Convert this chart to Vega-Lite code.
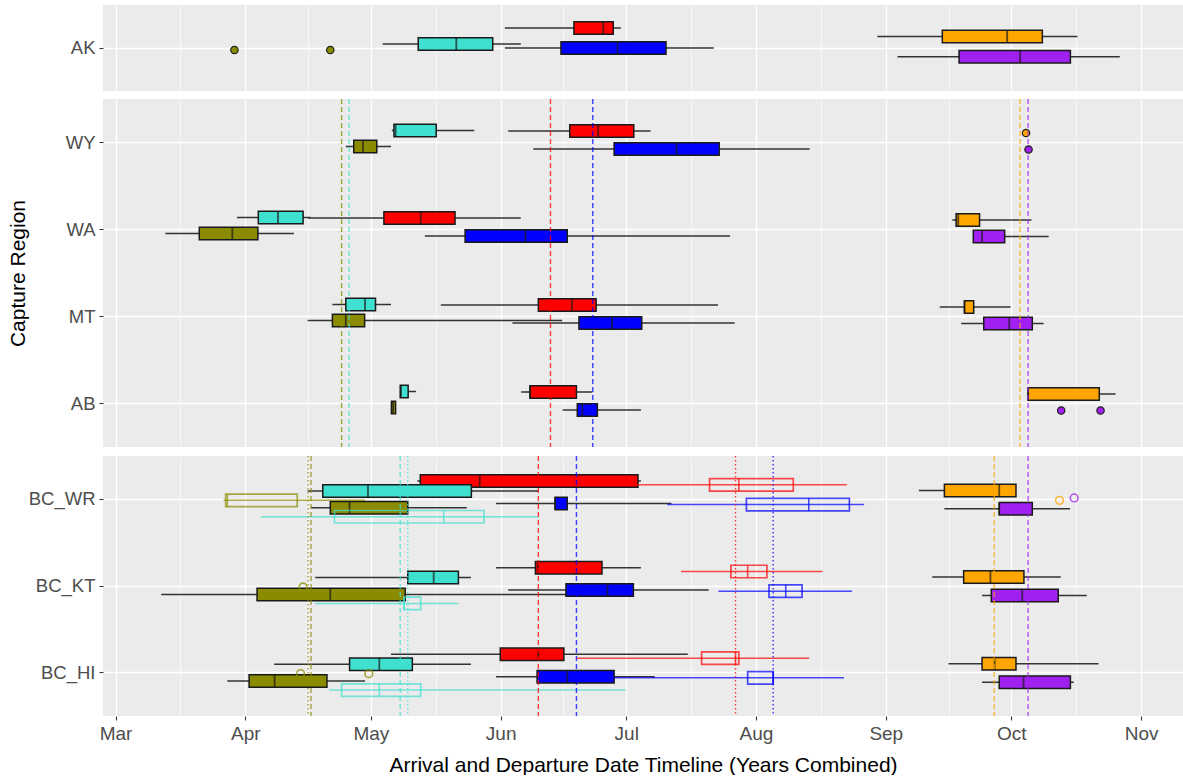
{
  "$schema": "https://vega.github.io/schema/vega-lite/v6.json",
  "background": "white",
  "padding": {"left": 7, "top": 5, "right": 0, "bottom": 0},
  "params": [
    {"name": "dodge", "value": {
      "AK|Spring start|S1": 2, "AK|Spring end|S1": -4, "AK|Summer start|S1": -20, "AK|Summer end|S1": 0, "AK|Fall start|S1": -11.4, "AK|Fall end|S1": 8.7,
      "main|Spring start|S1": 4, "main|Spring end|S1": -12, "main|Summer start|S1": -11.5, "main|Summer end|S1": 6.5, "main|Fall start|S1": -9.5, "main|Fall end|S1": 7,
      "BC|Spring start|S1": 8.4, "BC|Spring end|S1": -8.4, "BC|Summer start|S1": -18.3, "BC|Summer end|S1": 4.1, "BC|Fall start|S1": -8.9, "BC|Fall end|S1": 9.5,
      "BC|Spring start|S2": 1, "BC|Spring end|S2": 17.4, "BC|Summer start|S2": -14.5, "BC|Summer end|S2": 5.2, "BC|Fall start|S2": 1, "BC|Fall end|S2": -1.4
    }}
  ],
  "datasets": {
    "boxes": [
      {"panel":"AK","region":"AK","event":"Spring end","source":"S1","lo":123.8,"q1":132.3,"med":141.4,"q3":150.1,"hi":156.8},
      {"panel":"AK","region":"AK","event":"Summer start","source":"S1","lo":153.0,"q1":169.5,"med":176.5,"q3":178.9,"hi":180.7},
      {"panel":"AK","region":"AK","event":"Summer end","source":"S1","lo":153.0,"q1":166.4,"med":179.9,"q3":191.5,"hi":202.9},
      {"panel":"AK","region":"AK","event":"Fall start","source":"S1","lo":242.0,"q1":257.5,"med":273.0,"q3":281.4,"hi":289.8},
      {"panel":"AK","region":"AK","event":"Fall end","source":"S1","lo":246.8,"q1":261.5,"med":276.1,"q3":288.1,"hi":299.9},

      {"panel":"main","region":"WY","event":"Spring start","source":"S1","lo":115.0,"q1":116.9,"med":119.1,"q3":122.4,"hi":125.8},
      {"panel":"main","region":"WY","event":"Spring end","source":"S1","lo":126.0,"q1":126.5,"med":126.9,"q3":136.6,"hi":145.7},
      {"panel":"main","region":"WY","event":"Summer start","source":"S1","lo":153.8,"q1":168.5,"med":175.3,"q3":183.8,"hi":187.8},
      {"panel":"main","region":"WY","event":"Summer end","source":"S1","lo":159.8,"q1":179.1,"med":194.0,"q3":204.2,"hi":225.8},
      {"panel":"main","region":"WA","event":"Spring start","source":"S1","lo":71.9,"q1":80.0,"med":87.9,"q3":94.0,"hi":102.6},
      {"panel":"main","region":"WA","event":"Spring end","source":"S1","lo":89.0,"q1":94.1,"med":98.8,"q3":104.8,"hi":106.6},
      {"panel":"main","region":"WA","event":"Summer start","source":"S1","lo":106.0,"q1":124.1,"med":132.9,"q3":141.1,"hi":156.8},
      {"panel":"main","region":"WA","event":"Summer end","source":"S1","lo":133.9,"q1":143.5,"med":157.9,"q3":167.9,"hi":206.8},
      {"panel":"main","region":"WA","event":"Fall start","source":"S1","lo":259.9,"q1":260.8,"med":261.3,"q3":266.4,"hi":278.8},
      {"panel":"main","region":"WA","event":"Fall end","source":"S1","lo":264.9,"q1":264.9,"med":267.0,"q3":272.4,"hi":282.9},
      {"panel":"main","region":"MT","event":"Spring start","source":"S1","lo":105.9,"q1":111.8,"med":115.0,"q3":119.5,"hi":166.7},
      {"panel":"main","region":"MT","event":"Spring end","source":"S1","lo":111.8,"q1":115.0,"med":119.6,"q3":122.1,"hi":125.8},
      {"panel":"main","region":"MT","event":"Summer start","source":"S1","lo":137.7,"q1":161.0,"med":169.0,"q3":174.8,"hi":203.9},
      {"panel":"main","region":"MT","event":"Summer end","source":"S1","lo":154.8,"q1":170.7,"med":178.6,"q3":185.7,"hi":207.9},
      {"panel":"main","region":"MT","event":"Fall start","source":"S1","lo":256.9,"q1":262.8,"med":262.8,"q3":265.0,"hi":273.8},
      {"panel":"main","region":"MT","event":"Fall end","source":"S1","lo":262.0,"q1":267.4,"med":273.5,"q3":279.0,"hi":281.7},
      {"panel":"main","region":"AB","event":"Spring start","source":"S1","lo":125.9,"q1":125.9,"med":126.3,"q3":126.9,"hi":126.9},
      {"panel":"main","region":"AB","event":"Spring end","source":"S1","lo":128.0,"q1":128.0,"med":128.2,"q3":129.9,"hi":131.8},
      {"panel":"main","region":"AB","event":"Summer start","source":"S1","lo":156.9,"q1":159.0,"med":159.0,"q3":170.1,"hi":173.9},
      {"panel":"main","region":"AB","event":"Summer end","source":"S1","lo":166.8,"q1":170.3,"med":171.5,"q3":175.1,"hi":185.5},
      {"panel":"main","region":"AB","event":"Fall start","source":"S1","lo":278.0,"q1":278.0,"med":278.0,"q3":295.0,"hi":298.9},

      {"panel":"BC","region":"BC_WR","event":"Summer start","source":"S1","lo":132.1,"q1":132.8,"med":147.0,"q3":184.8,"hi":185.5},
      {"panel":"BC","region":"BC_WR","event":"Spring end","source":"S1","lo":105.9,"q1":109.5,"med":120.3,"q3":145.0,"hi":161.0},
      {"panel":"BC","region":"BC_WR","event":"Spring start","source":"S2","lo":85.8,"q1":86.3,"med":86.7,"q3":103.4,"hi":119.6},
      {"panel":"BC","region":"BC_WR","event":"Spring end","source":"S2","lo":94.7,"q1":112.3,"med":138.4,"q3":148.0,"hi":161.0},
      {"panel":"BC","region":"BC_WR","event":"Spring start","source":"S1","lo":106.7,"q1":111.3,"med":115.9,"q3":129.8,"hi":143.9},
      {"panel":"BC","region":"BC_WR","event":"Summer end","source":"S1","lo":150.9,"q1":165.0,"med":165.0,"q3":167.9,"hi":192.8},
      {"panel":"BC","region":"BC_WR","event":"Summer start","source":"S2","lo":157.7,"q1":201.9,"med":208.9,"q3":221.9,"hi":234.7},
      {"panel":"BC","region":"BC_WR","event":"Summer end","source":"S2","lo":191.8,"q1":210.7,"med":225.6,"q3":235.3,"hi":238.8},
      {"panel":"BC","region":"BC_WR","event":"Fall start","source":"S1","lo":251.9,"q1":258.0,"med":271.1,"q3":275.1,"hi":275.1},
      {"panel":"BC","region":"BC_WR","event":"Fall end","source":"S1","lo":258.0,"q1":271.1,"med":271.1,"q3":279.0,"hi":288.0},
      {"panel":"BC","region":"BC_KT","event":"Spring end","source":"S1","lo":107.7,"q1":129.8,"med":136.0,"q3":141.9,"hi":144.9},
      {"panel":"BC","region":"BC_KT","event":"Spring start","source":"S1","lo":70.9,"q1":93.8,"med":111.3,"q3":129.2,"hi":170.7},
      {"panel":"BC","region":"BC_KT","event":"Spring end","source":"S2","lo":107.7,"q1":128.9,"med":128.9,"q3":132.9,"hi":141.9},
      {"panel":"BC","region":"BC_KT","event":"Summer start","source":"S1","lo":150.9,"q1":160.3,"med":160.9,"q3":176.2,"hi":185.5},
      {"panel":"BC","region":"BC_KT","event":"Summer end","source":"S1","lo":153.8,"q1":167.6,"med":177.5,"q3":183.7,"hi":201.7},
      {"panel":"BC","region":"BC_KT","event":"Summer start","source":"S2","lo":195.1,"q1":207.0,"med":211.0,"q3":215.6,"hi":228.9},
      {"panel":"BC","region":"BC_KT","event":"Summer end","source":"S2","lo":204.0,"q1":216.1,"med":220.1,"q3":224.0,"hi":235.9},
      {"panel":"BC","region":"BC_KT","event":"Fall start","source":"S1","lo":255.1,"q1":262.6,"med":269.0,"q3":277.0,"hi":285.8},
      {"panel":"BC","region":"BC_KT","event":"Fall end","source":"S1","lo":267.0,"q1":269.2,"med":276.6,"q3":285.2,"hi":292.0},
      {"panel":"BC","region":"BC_HI","event":"Summer start","source":"S1","lo":125.8,"q1":151.9,"med":161.0,"q3":167.1,"hi":196.7},
      {"panel":"BC","region":"BC_HI","event":"Spring end","source":"S1","lo":97.9,"q1":115.9,"med":123.0,"q3":130.9,"hi":144.9},
      {"panel":"BC","region":"BC_HI","event":"Spring start","source":"S1","lo":86.7,"q1":91.9,"med":98.0,"q3":110.5,"hi":119.6},
      {"panel":"BC","region":"BC_HI","event":"Summer end","source":"S1","lo":150.9,"q1":160.7,"med":167.9,"q3":179.1,"hi":188.8},
      {"panel":"BC","region":"BC_HI","event":"Spring end","source":"S2","lo":111.0,"q1":114.0,"med":123.0,"q3":132.9,"hi":181.8},
      {"panel":"BC","region":"BC_HI","event":"Summer start","source":"S2","lo":170.1,"q1":200.0,"med":208.1,"q3":208.9,"hi":225.7},
      {"panel":"BC","region":"BC_HI","event":"Summer end","source":"S2","lo":173.0,"q1":211.0,"med":217.1,"q3":217.1,"hi":234.0},
      {"panel":"BC","region":"BC_HI","event":"Fall start","source":"S1","lo":259.0,"q1":267.0,"med":270.0,"q3":275.1,"hi":294.8},
      {"panel":"BC","region":"BC_HI","event":"Fall end","source":"S1","lo":267.0,"q1":271.1,"med":276.9,"q3":288.1,"hi":288.9}
    ],
    "points": [
      {"panel":"AK","region":"AK","event":"Spring start","source":"S1","value":88.4},
      {"panel":"AK","region":"AK","event":"Spring start","source":"S1","value":111.3},
      {"panel":"main","region":"WY","event":"Fall start","source":"S1","value":277.5},
      {"panel":"main","region":"WY","event":"Fall end","source":"S1","value":278.1},
      {"panel":"main","region":"AB","event":"Fall end","source":"S1","value":285.9},
      {"panel":"main","region":"AB","event":"Fall end","source":"S1","value":295.3},
      {"panel":"BC","region":"BC_WR","event":"Fall start","source":"S2","value":285.5},
      {"panel":"BC","region":"BC_WR","event":"Fall end","source":"S2","value":289.0},
      {"panel":"BC","region":"BC_KT","event":"Spring start","source":"S2","value":104.8},
      {"panel":"BC","region":"BC_HI","event":"Spring start","source":"S2","value":104.2},
      {"panel":"BC","region":"BC_HI","event":"Spring start","source":"S2","value":120.5}
    ],
    "lines": [
      {"panel":"main","event":"Spring start","source":"S1","value":114.0},
      {"panel":"main","event":"Spring end","source":"S1","value":115.8},
      {"panel":"main","event":"Summer start","source":"S1","value":163.9},
      {"panel":"main","event":"Summer end","source":"S1","value":174.0},
      {"panel":"main","event":"Fall start","source":"S1","value":276.1},
      {"panel":"main","event":"Fall end","source":"S1","value":278.0},
      {"panel":"BC","event":"Spring start","source":"S2","value":106.0},
      {"panel":"BC","event":"Spring start","source":"S1","value":106.7},
      {"panel":"BC","event":"Spring end","source":"S1","value":128.0},
      {"panel":"BC","event":"Spring end","source":"S2","value":129.8},
      {"panel":"BC","event":"Summer start","source":"S1","value":161.0},
      {"panel":"BC","event":"Summer end","source":"S1","value":170.1},
      {"panel":"BC","event":"Summer start","source":"S2","value":208.1},
      {"panel":"BC","event":"Summer end","source":"S2","value":217.1},
      {"panel":"BC","event":"Fall start","source":"S1","value":269.9},
      {"panel":"BC","event":"Fall end","source":"S1","value":278.0}
    ]
  },
  "spacing": 7,
  "resolve": {"scale": {"x": "independent", "y": "independent"}},
  "vconcat": [
    {
      "width": 1080, "height": 86,
      "layer": [
        {"data": {"name": "boxes"}, "transform": [{"filter": "datum.panel === 'AK' && datum.source === 'S1'"}],
         "mark": {"type": "rule", "color": "#333333", "strokeWidth": 1.5, "yOffset": {"expr": "dodge[datum.panel + '|' + datum.event + '|' + datum.source] || 0"}},
         "encoding": {
           "x": {"field": "lo", "type": "quantitative", "scale": {"domain": [57, 315], "nice": false, "zero": false},
                 "axis": {"title": null, "values": [60,75.5,91,106,121,136.5,152,167,182,197.5,213,228.5,244,259,274,289.5,305], "labels": false, "ticks": false, "domain": false, "grid": true, "gridColor": "white",
                          "gridWidth": {"condition": {"test": "indexof([60,91,121,152,182,213,244,274,305], datum.value) >= 0", "value": 1.3}, "value": 0.6}}},
           "x2": {"field": "hi"},
           "y": {"field": "region", "type": "nominal", "scale": {"domain": ["AK"], "paddingInner": 0, "paddingOuter": 0},
                 "axis": {"title": null, "domain": false, "tickSize": 4, "tickColor": "#333333", "tickWidth": 1.1, "labelFontSize": 18.5, "labelColor": "#4D4D4D", "labelPadding": 4, "labelFont": "Liberation Sans", "grid": true, "gridColor": "white", "gridWidth": 1.3, "minExtent": 70, "maxExtent": 70, "bandPosition": 0.5}}
         }},
        {"data": {"name": "boxes"}, "transform": [{"filter": "datum.panel === 'AK' && datum.source === 'S1'"}],
         "mark": {"type": "bar", "size": 12.5, "stroke": "#1a1a1a", "strokeWidth": 1.5, "yOffset": {"expr": "dodge[datum.panel + '|' + datum.event + '|' + datum.source] || 0"}},
         "encoding": {
           "x": {"field": "q1", "type": "quantitative"}, "x2": {"field": "q3"},
           "y": {"field": "region", "type": "nominal"},
           "fill": {"field": "event", "type": "nominal", "legend": null, "scale": {"domain": ["Spring start","Spring end","Summer start","Summer end","Fall start","Fall end"], "range": ["#8B8B00","#40E0D0","#FF0000","#0000FF","#FFA500","#A020F0"]}}
         }},
        {"data": {"name": "boxes"}, "transform": [{"filter": "datum.panel === 'AK' && datum.source === 'S1'"}],
         "mark": {"type": "tick", "size": 12.5, "thickness": 1.8, "color": "#1a1a1a", "yOffset": {"expr": "dodge[datum.panel + '|' + datum.event + '|' + datum.source] || 0"}},
         "encoding": {
           "x": {"field": "med", "type": "quantitative"},
           "y": {"field": "region", "type": "nominal"}
         }},
        {"data": {"name": "points"}, "transform": [{"filter": "datum.panel === 'AK' && datum.source === 'S1'"}],
         "mark": {"type": "point", "shape": "circle", "filled": true, "size": 55, "stroke": "#222222", "strokeWidth": 1.2, "opacity": 1, "yOffset": {"expr": "dodge[datum.panel + '|' + datum.event + '|' + datum.source] || 0"}},
         "encoding": {
           "x": {"field": "value", "type": "quantitative"},
           "y": {"field": "region", "type": "nominal"},
           "fill": {"field": "event", "type": "nominal", "legend": null, "scale": {"domain": ["Spring start","Spring end","Summer start","Summer end","Fall start","Fall end"], "range": ["#8B8B00","#40E0D0","#FF0000","#0000FF","#FFA500","#A020F0"]}}
         }}
      ]
    },
    {
      "width": 1080, "height": 348,
      "layer": [
        {"data": {"name": "boxes"}, "transform": [{"filter": "datum.panel === 'main' && datum.source === 'S1'"}],
         "mark": {"type": "rule", "color": "#333333", "strokeWidth": 1.5, "yOffset": {"expr": "dodge[datum.panel + '|' + datum.event + '|' + datum.source] || 0"}},
         "encoding": {
           "x": {"field": "lo", "type": "quantitative", "scale": {"domain": [57, 315], "nice": false, "zero": false},
                 "axis": {"title": null, "values": [60,75.5,91,106,121,136.5,152,167,182,197.5,213,228.5,244,259,274,289.5,305], "labels": false, "ticks": false, "domain": false, "grid": true, "gridColor": "white",
                          "gridWidth": {"condition": {"test": "indexof([60,91,121,152,182,213,244,274,305], datum.value) >= 0", "value": 1.3}, "value": 0.6}}},
           "x2": {"field": "hi"},
           "y": {"field": "region", "type": "nominal", "scale": {"domain": ["WY","WA","MT","AB"], "paddingInner": 0, "paddingOuter": 0},
                 "axis": {"title": "Capture Region", "titleFontSize": 21, "titleFontWeight": "normal", "titleColor": "black", "titleFont": "Liberation Sans", "titlePadding": 5,
                          "domain": false, "tickSize": 4, "tickColor": "#333333", "tickWidth": 1.1, "labelFontSize": 18.5, "labelColor": "#4D4D4D", "labelPadding": 4, "labelFont": "Liberation Sans", "grid": true, "gridColor": "white", "gridWidth": 1.3, "minExtent": 70, "maxExtent": 70, "bandPosition": 0.5}}
         }},
        {"data": {"name": "boxes"}, "transform": [{"filter": "datum.panel === 'main' && datum.source === 'S1'"}],
         "mark": {"type": "bar", "size": 12.5, "stroke": "#1a1a1a", "strokeWidth": 1.5, "yOffset": {"expr": "dodge[datum.panel + '|' + datum.event + '|' + datum.source] || 0"}},
         "encoding": {
           "x": {"field": "q1", "type": "quantitative"}, "x2": {"field": "q3"},
           "y": {"field": "region", "type": "nominal"},
           "fill": {"field": "event", "type": "nominal", "legend": null, "scale": {"domain": ["Spring start","Spring end","Summer start","Summer end","Fall start","Fall end"], "range": ["#8B8B00","#40E0D0","#FF0000","#0000FF","#FFA500","#A020F0"]}}
         }},
        {"data": {"name": "boxes"}, "transform": [{"filter": "datum.panel === 'main' && datum.source === 'S1'"}],
         "mark": {"type": "tick", "size": 12.5, "thickness": 1.8, "color": "#1a1a1a", "yOffset": {"expr": "dodge[datum.panel + '|' + datum.event + '|' + datum.source] || 0"}},
         "encoding": {
           "x": {"field": "med", "type": "quantitative"},
           "y": {"field": "region", "type": "nominal"}
         }},
        {"data": {"name": "points"}, "transform": [{"filter": "datum.panel === 'main' && datum.source === 'S1'"}],
         "mark": {"type": "point", "shape": "circle", "filled": true, "size": 55, "stroke": "#222222", "strokeWidth": 1.2, "opacity": 1, "yOffset": {"expr": "dodge[datum.panel + '|' + datum.event + '|' + datum.source] || 0"}},
         "encoding": {
           "x": {"field": "value", "type": "quantitative"},
           "y": {"field": "region", "type": "nominal"},
           "fill": {"field": "event", "type": "nominal", "legend": null, "scale": {"domain": ["Spring start","Spring end","Summer start","Summer end","Fall start","Fall end"], "range": ["#8B8B00","#40E0D0","#FF0000","#0000FF","#FFA500","#A020F0"]}}
         }},
        {"data": {"name": "lines"}, "transform": [{"filter": "datum.panel === 'main'"}],
         "mark": {"type": "rule", "strokeWidth": 1.4, "opacity": 0.75},
         "encoding": {
           "x": {"field": "value", "type": "quantitative"},
           "color": {"field": "event", "type": "nominal", "legend": null, "scale": {"domain": ["Spring start","Spring end","Summer start","Summer end","Fall start","Fall end"], "range": ["#8B8B00","#40E0D0","#FF0000","#0000FF","#FFA500","#A020F0"]}},
           "strokeDash": {"field": "source", "type": "nominal", "legend": null, "scale": {"domain": ["S1","S2"], "range": [[5,3],[1.5,2.5]]}}
         }}
      ]
    },
    {
      "width": 1080, "height": 260,
      "layer": [
        {"data": {"name": "boxes"}, "transform": [{"filter": "datum.panel === 'BC' && datum.source === 'S1'"}],
         "mark": {"type": "rule", "color": "#333333", "strokeWidth": 1.5, "yOffset": {"expr": "dodge[datum.panel + '|' + datum.event + '|' + datum.source] || 0"}},
         "encoding": {
           "x": {"field": "lo", "type": "quantitative", "scale": {"domain": [57, 315], "nice": false, "zero": false},
                 "axis": {"title": "Arrival and Departure Date Timeline (Years Combined)", "titleFontSize": 21, "titleFontWeight": "normal", "titleColor": "black", "titleFont": "Liberation Sans", "titlePadding": 11,
                          "values": [60,75.5,91,106,121,136.5,152,167,182,197.5,213,228.5,244,259,274,289.5,305],
                          "labelExpr": "indexof([60,91,121,152,182,213,244,274,305], datum.value) >= 0 ? timeFormat(datetime(2001, 0, datum.value), '%b') : ''",
                          "labelOverlap": false, "labelFlush": false, "labelFontSize": 19, "labelColor": "#4D4D4D", "labelFont": "Liberation Sans", "labelPadding": 4,
                          "tickSize": 4, "tickColor": "#333333", "tickWidth": 1.1,
                          "tickOpacity": {"condition": {"test": "indexof([60,91,121,152,182,213,244,274,305], datum.value) >= 0", "value": 1}, "value": 0},
                          "domain": false, "grid": true, "gridColor": "white",
                          "gridWidth": {"condition": {"test": "indexof([60,91,121,152,182,213,244,274,305], datum.value) >= 0", "value": 1.3}, "value": 0.6}}},
           "x2": {"field": "hi"},
           "y": {"field": "region", "type": "nominal", "scale": {"domain": ["BC_WR","BC_KT","BC_HI"], "paddingInner": 0, "paddingOuter": 0},
                 "axis": {"title": null, "domain": false, "tickSize": 4, "tickColor": "#333333", "tickWidth": 1.1, "labelFontSize": 18.5, "labelColor": "#4D4D4D", "labelPadding": 4, "labelFont": "Liberation Sans", "grid": true, "gridColor": "white", "gridWidth": 1.3, "minExtent": 70, "maxExtent": 70, "bandPosition": 0.5}}
         }},
        {"data": {"name": "boxes"}, "transform": [{"filter": "datum.panel === 'BC' && datum.source === 'S1'"}],
         "mark": {"type": "bar", "size": 12.5, "stroke": "#1a1a1a", "strokeWidth": 1.5, "yOffset": {"expr": "dodge[datum.panel + '|' + datum.event + '|' + datum.source] || 0"}},
         "encoding": {
           "x": {"field": "q1", "type": "quantitative"}, "x2": {"field": "q3"},
           "y": {"field": "region", "type": "nominal"},
           "fill": {"field": "event", "type": "nominal", "legend": null, "scale": {"domain": ["Spring start","Spring end","Summer start","Summer end","Fall start","Fall end"], "range": ["#8B8B00","#40E0D0","#FF0000","#0000FF","#FFA500","#A020F0"]}}
         }},
        {"data": {"name": "boxes"}, "transform": [{"filter": "datum.panel === 'BC' && datum.source === 'S1'"}],
         "mark": {"type": "tick", "size": 12.5, "thickness": 1.8, "color": "#1a1a1a", "yOffset": {"expr": "dodge[datum.panel + '|' + datum.event + '|' + datum.source] || 0"}},
         "encoding": {
           "x": {"field": "med", "type": "quantitative"},
           "y": {"field": "region", "type": "nominal"}
         }},
        {"data": {"name": "boxes"}, "transform": [{"filter": "datum.panel === 'BC' && datum.source === 'S2'"}],
         "mark": {"type": "rule", "strokeWidth": 1.5, "opacity": 0.7, "yOffset": {"expr": "dodge[datum.panel + '|' + datum.event + '|' + datum.source] || 0"}},
         "encoding": {
           "x": {"field": "lo", "type": "quantitative"}, "x2": {"field": "hi"},
           "y": {"field": "region", "type": "nominal"},
           "color": {"field": "event", "type": "nominal", "legend": null, "scale": {"domain": ["Spring start","Spring end","Summer start","Summer end","Fall start","Fall end"], "range": ["#8B8B00","#40E0D0","#FF0000","#0000FF","#FFA500","#A020F0"]}}
         }},
        {"data": {"name": "boxes"}, "transform": [{"filter": "datum.panel === 'BC' && datum.source === 'S2'"}],
         "mark": {"type": "bar", "filled": false, "size": 12.5, "strokeWidth": 1.7, "opacity": 0.7, "yOffset": {"expr": "dodge[datum.panel + '|' + datum.event + '|' + datum.source] || 0"}},
         "encoding": {
           "x": {"field": "q1", "type": "quantitative"}, "x2": {"field": "q3"},
           "y": {"field": "region", "type": "nominal"},
           "color": {"field": "event", "type": "nominal", "legend": null, "scale": {"domain": ["Spring start","Spring end","Summer start","Summer end","Fall start","Fall end"], "range": ["#8B8B00","#40E0D0","#FF0000","#0000FF","#FFA500","#A020F0"]}}
         }},
        {"data": {"name": "boxes"}, "transform": [{"filter": "datum.panel === 'BC' && datum.source === 'S2'"}],
         "mark": {"type": "tick", "size": 12.5, "thickness": 1.6, "opacity": 0.7, "yOffset": {"expr": "dodge[datum.panel + '|' + datum.event + '|' + datum.source] || 0"}},
         "encoding": {
           "x": {"field": "med", "type": "quantitative"},
           "y": {"field": "region", "type": "nominal"},
           "color": {"field": "event", "type": "nominal", "legend": null, "scale": {"domain": ["Spring start","Spring end","Summer start","Summer end","Fall start","Fall end"], "range": ["#8B8B00","#40E0D0","#FF0000","#0000FF","#FFA500","#A020F0"]}}
         }},
        {"data": {"name": "points"}, "transform": [{"filter": "datum.panel === 'BC' && datum.source === 'S2'"}],
         "mark": {"type": "point", "shape": "circle", "filled": false, "size": 60, "strokeWidth": 1.6, "opacity": 0.75, "yOffset": {"expr": "dodge[datum.panel + '|' + datum.event + '|' + datum.source] || 0"}},
         "encoding": {
           "x": {"field": "value", "type": "quantitative"},
           "y": {"field": "region", "type": "nominal"},
           "color": {"field": "event", "type": "nominal", "legend": null, "scale": {"domain": ["Spring start","Spring end","Summer start","Summer end","Fall start","Fall end"], "range": ["#8B8B00","#40E0D0","#FF0000","#0000FF","#FFA500","#A020F0"]}}
         }},
        {"data": {"name": "lines"}, "transform": [{"filter": "datum.panel === 'BC'"}],
         "mark": {"type": "rule", "strokeWidth": 1.4, "opacity": 0.75},
         "encoding": {
           "x": {"field": "value", "type": "quantitative"},
           "color": {"field": "event", "type": "nominal", "legend": null, "scale": {"domain": ["Spring start","Spring end","Summer start","Summer end","Fall start","Fall end"], "range": ["#8B8B00","#40E0D0","#FF0000","#0000FF","#FFA500","#A020F0"]}},
           "strokeDash": {"field": "source", "type": "nominal", "legend": null, "scale": {"domain": ["S1","S2"], "range": [[5,3],[1.5,2.5]]}}
         }}
      ]
    }
  ],
  "config": {
    "view": {"fill": "#EBEBEB", "stroke": null},
    "font": "Liberation Sans"
  }
}
